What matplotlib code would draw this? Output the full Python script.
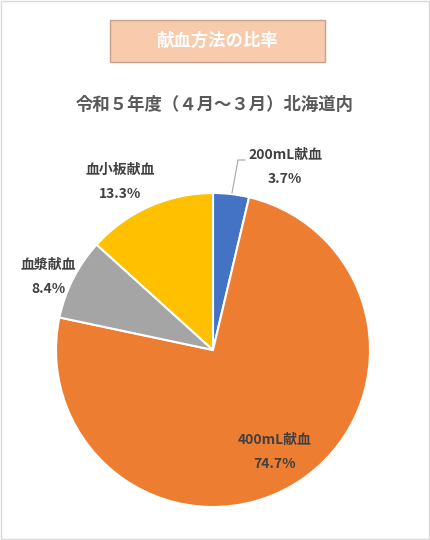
import matplotlib
matplotlib.use('Agg')
import matplotlib.pyplot as plt
from matplotlib.patches import Rectangle

plt.rcParams['font.family'] = ['Noto Sans CJK JP', 'DejaVu Sans']

labels = ['200mL献血', '400mL献血', '血漿献血', '血小板献血']
shares = [3.7, 74.7, 8.4, 13.3]
colors = ['#4472c4', '#ed7d31', '#a5a5a5', '#ffc000']

H = 540
fig = plt.figure(figsize=(4.3, 5.4), dpi=100)
ax = fig.add_axes([0, 0, 1, 1])

ax.pie(shares, colors=colors, center=(213, H - 350), radius=157,
       startangle=90, counterclock=False,
       wedgeprops=dict(edgecolor='white', linewidth=1.5), frame=True)
ax.set_xlim(0, 430)
ax.set_ylim(0, H)
ax.set_aspect('equal')
ax.axis('off')

# outer frame
ax.add_patch(Rectangle((1, 1), 428, H - 2, fill=False, edgecolor='#d9d9d9', lw=1))

# title box
ax.add_patch(Rectangle((110, H - 62), 215, 42, facecolor='#f8cbad',
                       edgecolor='#c9a08a', lw=1))
ax.text(217, H - 41, '献血方法の比率', ha='center', va='center',
        fontsize=12.5, fontweight='bold', color='white')

ax.text(215, H - 105, '令和５年度（４月～３月）北海道内', ha='center', va='center',
        fontsize=12.5, fontweight='bold', color='#595959')

label_pos = [(285, 155), (275, 440), (48, 265), (120, 170)]
for lab, val, (x, y) in zip(labels, shares, label_pos):
    ax.text(x, H - y, lab, ha='center', va='center', fontsize=10,
            fontweight='bold', color='#404040')
    ax.text(x, H - y - 24, f'{val}%', ha='center', va='center', fontsize=10,
            fontweight='bold', color='#404040')

# leader line for the small slice
ax.plot([245, 238, 232], [H - 160, H - 160, H - 193], color='#a6a6a6', lw=0.8)

fig.savefig('out.png', dpi=100, facecolor='white')
